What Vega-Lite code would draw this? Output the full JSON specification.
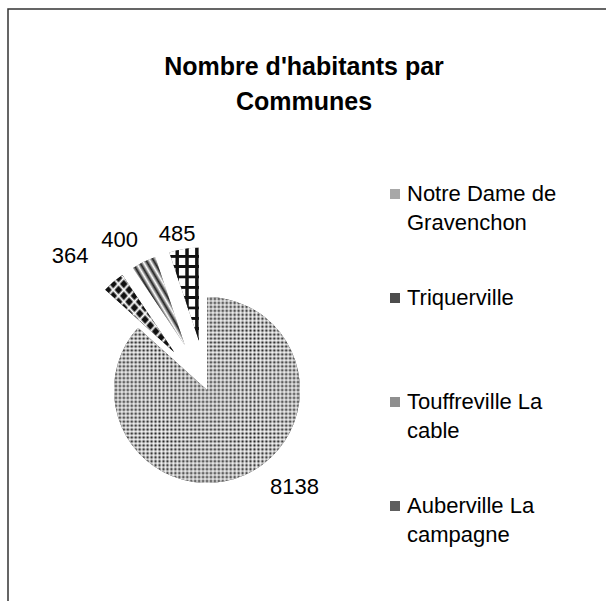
{
  "$schema": "https://vega.github.io/schema/vega-lite/v6.json",
  "width": 598,
  "height": 592,
  "autosize": {"type": "none"},
  "padding": {"left": 8, "top": 9, "right": 0, "bottom": 0},
  "background": "white",
  "title": {
    "text": ["Nombre d'habitants par", "Communes"],
    "anchor": "middle",
    "offset": -106,
    "dx": -3,
    "font": "Liberation Sans",
    "fontSize": 25,
    "fontWeight": "bold",
    "lineHeight": 35,
    "color": "black"
  },
  "config": {
    "view": {"stroke": "#333333", "strokeWidth": 1.5, "strokeDash": [598, 1190, 592]},
    "style": {"guide-label": {"lineHeight": 29}}
  },
  "data": {
    "values": [
      {"commune": "Notre Dame de Gravenchon", "habitants": 8138, "rang": 1},
      {"commune": "Triquerville", "habitants": 364, "rang": 2},
      {"commune": "Touffreville La cable", "habitants": 400, "rang": 3},
      {"commune": "Auberville La campagne", "habitants": 485, "rang": 4}
    ]
  },
  "transform": [
    {"stack": "habitants", "groupby": [], "sort": [{"field": "rang", "order": "ascending"}], "as": ["t0", "t1"]},
    {"joinaggregate": [{"op": "sum", "field": "habitants", "as": "total"}]},
    {"calculate": "(datum.t0 + datum.t1) / 2", "as": "tm"},
    {"calculate": "datum.rang > 1 ? 50 : 0", "as": "ecart"},
    {"calculate": "datum.ecart * sin(2 * PI * datum.tm / datum.total)", "as": "dx"},
    {"calculate": "datum.ecart * cos(2 * PI * datum.tm / datum.total)", "as": "dy"}
  ],
  "encoding": {
    "x": {"field": "dx", "type": "quantitative", "scale": {"domain": [-199, 399], "nice": false, "zero": false}, "axis": null},
    "y": {"field": "dy", "type": "quantitative", "scale": {"domain": [-211, 381], "nice": false, "zero": false}, "axis": null}
  },
  "layer": [
    {
      "mark": {"type": "arc", "radius": 93, "strokeWidth": 0},
      "encoding": {
        "theta": {"field": "t1", "type": "quantitative", "stack": null, "scale": {"zero": true, "nice": false}},
        "theta2": {"field": "t0"},
        "color": {
          "field": "commune",
          "type": "nominal",
          "scale": {
            "domain": ["Notre Dame de Gravenchon", "Triquerville", "Touffreville La cable", "Auberville La campagne"],
            "range": ["#a8a8a8", "#4d4d4d", "#8f8f8f", "#5e5e5e"]
          },
          "legend": {
            "orient": "none",
            "legendX": 376,
            "legendY": 174,
            "title": null,
            "padding": 0,
            "symbolType": "square",
            "symbolSize": 100,
            "symbolStrokeWidth": 0,
            "labelFont": "Liberation Sans",
            "labelFontSize": 22,
            "labelColor": "black",
            "labelOffset": 1,
            "labelLimit": 400,
            "labelBaseline": "middle",
            "gridAlign": "all",
            "rowPadding": 53,
            "labelExpr": "datum.label == 'Notre Dame de Gravenchon' ? ['Notre Dame de', 'Gravenchon'] : datum.label == 'Triquerville' ? ['Triquerville', ''] : datum.label == 'Touffreville La cable' ? ['Touffreville La', 'cable'] : ['Auberville La', 'campagne']"
          }
        }
      }
    },
    {
      "transform": [{"filter": "datum.rang == 1"}],
      "mark": {"type": "arc", "radius": 93, "strokeWidth": 0, "fill": "#222222"},
      "encoding": {
        "theta": {"field": "t1", "type": "quantitative", "stack": null},
        "theta2": {"field": "t0"}
      }
    },
    {
      "transform": [{"filter": "datum.rang == 1"}],
      "mark": {
        "type": "arc", "radius": 93, "strokeWidth": 0,
        "fill": {
          "gradient": "linear", "x1": 0, "y1": 0, "x2": 1, "y2": 0,
          "stops": [
            {"offset": 0, "color": "rgba(255,255,255,0.8)"}, {"offset": 0.0106, "color": "rgba(255,255,255,0)"}, {"offset": 0.0213, "color": "rgba(255,255,255,0.8)"}, {"offset": 0.0319, "color": "rgba(255,255,255,0)"},
            {"offset": 0.0426, "color": "rgba(255,255,255,0.8)"}, {"offset": 0.0532, "color": "rgba(255,255,255,0)"}, {"offset": 0.0638, "color": "rgba(255,255,255,0.8)"}, {"offset": 0.0745, "color": "rgba(255,255,255,0)"},
            {"offset": 0.0851, "color": "rgba(255,255,255,0.8)"}, {"offset": 0.0957, "color": "rgba(255,255,255,0)"}, {"offset": 0.1064, "color": "rgba(255,255,255,0.8)"}, {"offset": 0.117, "color": "rgba(255,255,255,0)"},
            {"offset": 0.1277, "color": "rgba(255,255,255,0.8)"}, {"offset": 0.1383, "color": "rgba(255,255,255,0)"}, {"offset": 0.1489, "color": "rgba(255,255,255,0.8)"}, {"offset": 0.1596, "color": "rgba(255,255,255,0)"},
            {"offset": 0.1702, "color": "rgba(255,255,255,0.8)"}, {"offset": 0.1809, "color": "rgba(255,255,255,0)"}, {"offset": 0.1915, "color": "rgba(255,255,255,0.8)"}, {"offset": 0.2021, "color": "rgba(255,255,255,0)"},
            {"offset": 0.2128, "color": "rgba(255,255,255,0.8)"}, {"offset": 0.2234, "color": "rgba(255,255,255,0)"}, {"offset": 0.234, "color": "rgba(255,255,255,0.8)"}, {"offset": 0.2447, "color": "rgba(255,255,255,0)"},
            {"offset": 0.2553, "color": "rgba(255,255,255,0.8)"}, {"offset": 0.266, "color": "rgba(255,255,255,0)"}, {"offset": 0.2766, "color": "rgba(255,255,255,0.8)"}, {"offset": 0.2872, "color": "rgba(255,255,255,0)"},
            {"offset": 0.2979, "color": "rgba(255,255,255,0.8)"}, {"offset": 0.3085, "color": "rgba(255,255,255,0)"}, {"offset": 0.3191, "color": "rgba(255,255,255,0.8)"}, {"offset": 0.3298, "color": "rgba(255,255,255,0)"},
            {"offset": 0.3404, "color": "rgba(255,255,255,0.8)"}, {"offset": 0.3511, "color": "rgba(255,255,255,0)"}, {"offset": 0.3617, "color": "rgba(255,255,255,0.8)"}, {"offset": 0.3723, "color": "rgba(255,255,255,0)"},
            {"offset": 0.383, "color": "rgba(255,255,255,0.8)"}, {"offset": 0.3936, "color": "rgba(255,255,255,0)"}, {"offset": 0.4043, "color": "rgba(255,255,255,0.8)"}, {"offset": 0.4149, "color": "rgba(255,255,255,0)"},
            {"offset": 0.4255, "color": "rgba(255,255,255,0.8)"}, {"offset": 0.4362, "color": "rgba(255,255,255,0)"}, {"offset": 0.4468, "color": "rgba(255,255,255,0.8)"}, {"offset": 0.4574, "color": "rgba(255,255,255,0)"},
            {"offset": 0.4681, "color": "rgba(255,255,255,0.8)"}, {"offset": 0.4787, "color": "rgba(255,255,255,0)"}, {"offset": 0.4894, "color": "rgba(255,255,255,0.8)"}, {"offset": 0.5, "color": "rgba(255,255,255,0)"},
            {"offset": 0.5106, "color": "rgba(255,255,255,0.8)"}, {"offset": 0.5213, "color": "rgba(255,255,255,0)"}, {"offset": 0.5319, "color": "rgba(255,255,255,0.8)"}, {"offset": 0.5426, "color": "rgba(255,255,255,0)"},
            {"offset": 0.5532, "color": "rgba(255,255,255,0.8)"}, {"offset": 0.5638, "color": "rgba(255,255,255,0)"}, {"offset": 0.5745, "color": "rgba(255,255,255,0.8)"}, {"offset": 0.5851, "color": "rgba(255,255,255,0)"},
            {"offset": 0.5957, "color": "rgba(255,255,255,0.8)"}, {"offset": 0.6064, "color": "rgba(255,255,255,0)"}, {"offset": 0.617, "color": "rgba(255,255,255,0.8)"}, {"offset": 0.6277, "color": "rgba(255,255,255,0)"},
            {"offset": 0.6383, "color": "rgba(255,255,255,0.8)"}, {"offset": 0.6489, "color": "rgba(255,255,255,0)"}, {"offset": 0.6596, "color": "rgba(255,255,255,0.8)"}, {"offset": 0.6702, "color": "rgba(255,255,255,0)"},
            {"offset": 0.6809, "color": "rgba(255,255,255,0.8)"}, {"offset": 0.6915, "color": "rgba(255,255,255,0)"}, {"offset": 0.7021, "color": "rgba(255,255,255,0.8)"}, {"offset": 0.7128, "color": "rgba(255,255,255,0)"},
            {"offset": 0.7234, "color": "rgba(255,255,255,0.8)"}, {"offset": 0.734, "color": "rgba(255,255,255,0)"}, {"offset": 0.7447, "color": "rgba(255,255,255,0.8)"}, {"offset": 0.7553, "color": "rgba(255,255,255,0)"},
            {"offset": 0.766, "color": "rgba(255,255,255,0.8)"}, {"offset": 0.7766, "color": "rgba(255,255,255,0)"}, {"offset": 0.7872, "color": "rgba(255,255,255,0.8)"}, {"offset": 0.7979, "color": "rgba(255,255,255,0)"},
            {"offset": 0.8085, "color": "rgba(255,255,255,0.8)"}, {"offset": 0.8191, "color": "rgba(255,255,255,0)"}, {"offset": 0.8298, "color": "rgba(255,255,255,0.8)"}, {"offset": 0.8404, "color": "rgba(255,255,255,0)"},
            {"offset": 0.8511, "color": "rgba(255,255,255,0.8)"}, {"offset": 0.8617, "color": "rgba(255,255,255,0)"}, {"offset": 0.8723, "color": "rgba(255,255,255,0.8)"}, {"offset": 0.883, "color": "rgba(255,255,255,0)"},
            {"offset": 0.8936, "color": "rgba(255,255,255,0.8)"}, {"offset": 0.9043, "color": "rgba(255,255,255,0)"}, {"offset": 0.9149, "color": "rgba(255,255,255,0.8)"}, {"offset": 0.9255, "color": "rgba(255,255,255,0)"},
            {"offset": 0.9362, "color": "rgba(255,255,255,0.8)"}, {"offset": 0.9468, "color": "rgba(255,255,255,0)"}, {"offset": 0.9574, "color": "rgba(255,255,255,0.8)"}, {"offset": 0.9681, "color": "rgba(255,255,255,0)"},
            {"offset": 0.9787, "color": "rgba(255,255,255,0.8)"}, {"offset": 0.9894, "color": "rgba(255,255,255,0)"}, {"offset": 1, "color": "rgba(255,255,255,0.8)"}
          ]
        }
      },
      "encoding": {
        "theta": {"field": "t1", "type": "quantitative", "stack": null},
        "theta2": {"field": "t0"}
      }
    },
    {
      "transform": [{"filter": "datum.rang == 1"}],
      "mark": {
        "type": "arc", "radius": 93, "strokeWidth": 0,
        "fill": {
          "gradient": "linear", "x1": 0, "y1": 0, "x2": 0, "y2": 1,
          "stops": [
            {"offset": 0, "color": "rgba(255,255,255,0.8)"}, {"offset": 0.0106, "color": "rgba(255,255,255,0)"}, {"offset": 0.0213, "color": "rgba(255,255,255,0.8)"}, {"offset": 0.0319, "color": "rgba(255,255,255,0)"},
            {"offset": 0.0426, "color": "rgba(255,255,255,0.8)"}, {"offset": 0.0532, "color": "rgba(255,255,255,0)"}, {"offset": 0.0638, "color": "rgba(255,255,255,0.8)"}, {"offset": 0.0745, "color": "rgba(255,255,255,0)"},
            {"offset": 0.0851, "color": "rgba(255,255,255,0.8)"}, {"offset": 0.0957, "color": "rgba(255,255,255,0)"}, {"offset": 0.1064, "color": "rgba(255,255,255,0.8)"}, {"offset": 0.117, "color": "rgba(255,255,255,0)"},
            {"offset": 0.1277, "color": "rgba(255,255,255,0.8)"}, {"offset": 0.1383, "color": "rgba(255,255,255,0)"}, {"offset": 0.1489, "color": "rgba(255,255,255,0.8)"}, {"offset": 0.1596, "color": "rgba(255,255,255,0)"},
            {"offset": 0.1702, "color": "rgba(255,255,255,0.8)"}, {"offset": 0.1809, "color": "rgba(255,255,255,0)"}, {"offset": 0.1915, "color": "rgba(255,255,255,0.8)"}, {"offset": 0.2021, "color": "rgba(255,255,255,0)"},
            {"offset": 0.2128, "color": "rgba(255,255,255,0.8)"}, {"offset": 0.2234, "color": "rgba(255,255,255,0)"}, {"offset": 0.234, "color": "rgba(255,255,255,0.8)"}, {"offset": 0.2447, "color": "rgba(255,255,255,0)"},
            {"offset": 0.2553, "color": "rgba(255,255,255,0.8)"}, {"offset": 0.266, "color": "rgba(255,255,255,0)"}, {"offset": 0.2766, "color": "rgba(255,255,255,0.8)"}, {"offset": 0.2872, "color": "rgba(255,255,255,0)"},
            {"offset": 0.2979, "color": "rgba(255,255,255,0.8)"}, {"offset": 0.3085, "color": "rgba(255,255,255,0)"}, {"offset": 0.3191, "color": "rgba(255,255,255,0.8)"}, {"offset": 0.3298, "color": "rgba(255,255,255,0)"},
            {"offset": 0.3404, "color": "rgba(255,255,255,0.8)"}, {"offset": 0.3511, "color": "rgba(255,255,255,0)"}, {"offset": 0.3617, "color": "rgba(255,255,255,0.8)"}, {"offset": 0.3723, "color": "rgba(255,255,255,0)"},
            {"offset": 0.383, "color": "rgba(255,255,255,0.8)"}, {"offset": 0.3936, "color": "rgba(255,255,255,0)"}, {"offset": 0.4043, "color": "rgba(255,255,255,0.8)"}, {"offset": 0.4149, "color": "rgba(255,255,255,0)"},
            {"offset": 0.4255, "color": "rgba(255,255,255,0.8)"}, {"offset": 0.4362, "color": "rgba(255,255,255,0)"}, {"offset": 0.4468, "color": "rgba(255,255,255,0.8)"}, {"offset": 0.4574, "color": "rgba(255,255,255,0)"},
            {"offset": 0.4681, "color": "rgba(255,255,255,0.8)"}, {"offset": 0.4787, "color": "rgba(255,255,255,0)"}, {"offset": 0.4894, "color": "rgba(255,255,255,0.8)"}, {"offset": 0.5, "color": "rgba(255,255,255,0)"},
            {"offset": 0.5106, "color": "rgba(255,255,255,0.8)"}, {"offset": 0.5213, "color": "rgba(255,255,255,0)"}, {"offset": 0.5319, "color": "rgba(255,255,255,0.8)"}, {"offset": 0.5426, "color": "rgba(255,255,255,0)"},
            {"offset": 0.5532, "color": "rgba(255,255,255,0.8)"}, {"offset": 0.5638, "color": "rgba(255,255,255,0)"}, {"offset": 0.5745, "color": "rgba(255,255,255,0.8)"}, {"offset": 0.5851, "color": "rgba(255,255,255,0)"},
            {"offset": 0.5957, "color": "rgba(255,255,255,0.8)"}, {"offset": 0.6064, "color": "rgba(255,255,255,0)"}, {"offset": 0.617, "color": "rgba(255,255,255,0.8)"}, {"offset": 0.6277, "color": "rgba(255,255,255,0)"},
            {"offset": 0.6383, "color": "rgba(255,255,255,0.8)"}, {"offset": 0.6489, "color": "rgba(255,255,255,0)"}, {"offset": 0.6596, "color": "rgba(255,255,255,0.8)"}, {"offset": 0.6702, "color": "rgba(255,255,255,0)"},
            {"offset": 0.6809, "color": "rgba(255,255,255,0.8)"}, {"offset": 0.6915, "color": "rgba(255,255,255,0)"}, {"offset": 0.7021, "color": "rgba(255,255,255,0.8)"}, {"offset": 0.7128, "color": "rgba(255,255,255,0)"},
            {"offset": 0.7234, "color": "rgba(255,255,255,0.8)"}, {"offset": 0.734, "color": "rgba(255,255,255,0)"}, {"offset": 0.7447, "color": "rgba(255,255,255,0.8)"}, {"offset": 0.7553, "color": "rgba(255,255,255,0)"},
            {"offset": 0.766, "color": "rgba(255,255,255,0.8)"}, {"offset": 0.7766, "color": "rgba(255,255,255,0)"}, {"offset": 0.7872, "color": "rgba(255,255,255,0.8)"}, {"offset": 0.7979, "color": "rgba(255,255,255,0)"},
            {"offset": 0.8085, "color": "rgba(255,255,255,0.8)"}, {"offset": 0.8191, "color": "rgba(255,255,255,0)"}, {"offset": 0.8298, "color": "rgba(255,255,255,0.8)"}, {"offset": 0.8404, "color": "rgba(255,255,255,0)"},
            {"offset": 0.8511, "color": "rgba(255,255,255,0.8)"}, {"offset": 0.8617, "color": "rgba(255,255,255,0)"}, {"offset": 0.8723, "color": "rgba(255,255,255,0.8)"}, {"offset": 0.883, "color": "rgba(255,255,255,0)"},
            {"offset": 0.8936, "color": "rgba(255,255,255,0.8)"}, {"offset": 0.9043, "color": "rgba(255,255,255,0)"}, {"offset": 0.9149, "color": "rgba(255,255,255,0.8)"}, {"offset": 0.9255, "color": "rgba(255,255,255,0)"},
            {"offset": 0.9362, "color": "rgba(255,255,255,0.8)"}, {"offset": 0.9468, "color": "rgba(255,255,255,0)"}, {"offset": 0.9574, "color": "rgba(255,255,255,0.8)"}, {"offset": 0.9681, "color": "rgba(255,255,255,0)"},
            {"offset": 0.9787, "color": "rgba(255,255,255,0.8)"}, {"offset": 0.9894, "color": "rgba(255,255,255,0)"}, {"offset": 1, "color": "rgba(255,255,255,0.8)"}
          ]
        }
      },
      "encoding": {
        "theta": {"field": "t1", "type": "quantitative", "stack": null},
        "theta2": {"field": "t0"}
      }
    },
    {
      "transform": [{"filter": "datum.rang == 2"}],
      "mark": {"type": "arc", "radius": 93, "strokeWidth": 0, "fill": "#111111"},
      "encoding": {
        "theta": {"field": "t1", "type": "quantitative", "stack": null},
        "theta2": {"field": "t0"}
      }
    },
    {
      "transform": [{"filter": "datum.rang == 2"}],
      "mark": {
        "type": "arc", "radius": 93, "strokeWidth": 0,
        "fill": {
          "gradient": "linear", "x1": 0, "y1": 0, "x2": 1, "y2": 1,
          "stops": [
            {"offset": 0, "color": "rgba(255,255,255,1)"}, {"offset": 0.0192, "color": "rgba(255,255,255,0)"}, {"offset": 0.0577, "color": "rgba(255,255,255,0)"},
            {"offset": 0.0769, "color": "rgba(255,255,255,1)"}, {"offset": 0.0962, "color": "rgba(255,255,255,0)"}, {"offset": 0.1346, "color": "rgba(255,255,255,0)"},
            {"offset": 0.1538, "color": "rgba(255,255,255,1)"}, {"offset": 0.1731, "color": "rgba(255,255,255,0)"}, {"offset": 0.2115, "color": "rgba(255,255,255,0)"},
            {"offset": 0.2308, "color": "rgba(255,255,255,1)"}, {"offset": 0.25, "color": "rgba(255,255,255,0)"}, {"offset": 0.2885, "color": "rgba(255,255,255,0)"},
            {"offset": 0.3077, "color": "rgba(255,255,255,1)"}, {"offset": 0.3269, "color": "rgba(255,255,255,0)"}, {"offset": 0.3654, "color": "rgba(255,255,255,0)"},
            {"offset": 0.3846, "color": "rgba(255,255,255,1)"}, {"offset": 0.4038, "color": "rgba(255,255,255,0)"}, {"offset": 0.4423, "color": "rgba(255,255,255,0)"},
            {"offset": 0.4615, "color": "rgba(255,255,255,1)"}, {"offset": 0.4808, "color": "rgba(255,255,255,0)"}, {"offset": 0.5192, "color": "rgba(255,255,255,0)"},
            {"offset": 0.5385, "color": "rgba(255,255,255,1)"}, {"offset": 0.5577, "color": "rgba(255,255,255,0)"}, {"offset": 0.5962, "color": "rgba(255,255,255,0)"},
            {"offset": 0.6154, "color": "rgba(255,255,255,1)"}, {"offset": 0.6346, "color": "rgba(255,255,255,0)"}, {"offset": 0.6731, "color": "rgba(255,255,255,0)"},
            {"offset": 0.6923, "color": "rgba(255,255,255,1)"}, {"offset": 0.7115, "color": "rgba(255,255,255,0)"}, {"offset": 0.75, "color": "rgba(255,255,255,0)"},
            {"offset": 0.7692, "color": "rgba(255,255,255,1)"}, {"offset": 0.7885, "color": "rgba(255,255,255,0)"}, {"offset": 0.8269, "color": "rgba(255,255,255,0)"},
            {"offset": 0.8462, "color": "rgba(255,255,255,1)"}, {"offset": 0.8654, "color": "rgba(255,255,255,0)"}, {"offset": 0.9038, "color": "rgba(255,255,255,0)"},
            {"offset": 0.9231, "color": "rgba(255,255,255,1)"}, {"offset": 0.9423, "color": "rgba(255,255,255,0)"}, {"offset": 0.9808, "color": "rgba(255,255,255,0)"},
            {"offset": 1, "color": "rgba(255,255,255,1)"}
          ]
        }
      },
      "encoding": {
        "theta": {"field": "t1", "type": "quantitative", "stack": null},
        "theta2": {"field": "t0"}
      }
    },
    {
      "transform": [{"filter": "datum.rang == 2"}],
      "mark": {
        "type": "arc", "radius": 93, "strokeWidth": 0,
        "fill": {
          "gradient": "linear", "x1": 1, "y1": 0, "x2": 0, "y2": 1,
          "stops": [
            {"offset": 0, "color": "rgba(255,255,255,1)"}, {"offset": 0.0192, "color": "rgba(255,255,255,0)"}, {"offset": 0.0577, "color": "rgba(255,255,255,0)"},
            {"offset": 0.0769, "color": "rgba(255,255,255,1)"}, {"offset": 0.0962, "color": "rgba(255,255,255,0)"}, {"offset": 0.1346, "color": "rgba(255,255,255,0)"},
            {"offset": 0.1538, "color": "rgba(255,255,255,1)"}, {"offset": 0.1731, "color": "rgba(255,255,255,0)"}, {"offset": 0.2115, "color": "rgba(255,255,255,0)"},
            {"offset": 0.2308, "color": "rgba(255,255,255,1)"}, {"offset": 0.25, "color": "rgba(255,255,255,0)"}, {"offset": 0.2885, "color": "rgba(255,255,255,0)"},
            {"offset": 0.3077, "color": "rgba(255,255,255,1)"}, {"offset": 0.3269, "color": "rgba(255,255,255,0)"}, {"offset": 0.3654, "color": "rgba(255,255,255,0)"},
            {"offset": 0.3846, "color": "rgba(255,255,255,1)"}, {"offset": 0.4038, "color": "rgba(255,255,255,0)"}, {"offset": 0.4423, "color": "rgba(255,255,255,0)"},
            {"offset": 0.4615, "color": "rgba(255,255,255,1)"}, {"offset": 0.4808, "color": "rgba(255,255,255,0)"}, {"offset": 0.5192, "color": "rgba(255,255,255,0)"},
            {"offset": 0.5385, "color": "rgba(255,255,255,1)"}, {"offset": 0.5577, "color": "rgba(255,255,255,0)"}, {"offset": 0.5962, "color": "rgba(255,255,255,0)"},
            {"offset": 0.6154, "color": "rgba(255,255,255,1)"}, {"offset": 0.6346, "color": "rgba(255,255,255,0)"}, {"offset": 0.6731, "color": "rgba(255,255,255,0)"},
            {"offset": 0.6923, "color": "rgba(255,255,255,1)"}, {"offset": 0.7115, "color": "rgba(255,255,255,0)"}, {"offset": 0.75, "color": "rgba(255,255,255,0)"},
            {"offset": 0.7692, "color": "rgba(255,255,255,1)"}, {"offset": 0.7885, "color": "rgba(255,255,255,0)"}, {"offset": 0.8269, "color": "rgba(255,255,255,0)"},
            {"offset": 0.8462, "color": "rgba(255,255,255,1)"}, {"offset": 0.8654, "color": "rgba(255,255,255,0)"}, {"offset": 0.9038, "color": "rgba(255,255,255,0)"},
            {"offset": 0.9231, "color": "rgba(255,255,255,1)"}, {"offset": 0.9423, "color": "rgba(255,255,255,0)"}, {"offset": 0.9808, "color": "rgba(255,255,255,0)"},
            {"offset": 1, "color": "rgba(255,255,255,1)"}
          ]
        }
      },
      "encoding": {
        "theta": {"field": "t1", "type": "quantitative", "stack": null},
        "theta2": {"field": "t0"}
      }
    },
    {
      "transform": [{"filter": "datum.rang == 3"}],
      "mark": {
        "type": "arc", "radius": 93, "strokeWidth": 0,
        "fill": {
          "gradient": "linear", "x1": 0, "y1": 1, "x2": 1, "y2": 0,
          "stops": [
            {"offset": 0, "color": "#ffffff"}, {"offset": 0.0357, "color": "#222222"}, {"offset": 0.0714, "color": "#ffffff"}, {"offset": 0.1071, "color": "#222222"},
            {"offset": 0.1429, "color": "#ffffff"}, {"offset": 0.1786, "color": "#222222"}, {"offset": 0.2143, "color": "#ffffff"}, {"offset": 0.25, "color": "#222222"},
            {"offset": 0.2857, "color": "#ffffff"}, {"offset": 0.3214, "color": "#222222"}, {"offset": 0.3571, "color": "#ffffff"}, {"offset": 0.3929, "color": "#222222"},
            {"offset": 0.4286, "color": "#ffffff"}, {"offset": 0.4643, "color": "#222222"}, {"offset": 0.5, "color": "#ffffff"}, {"offset": 0.5357, "color": "#222222"},
            {"offset": 0.5714, "color": "#ffffff"}, {"offset": 0.6071, "color": "#222222"}, {"offset": 0.6429, "color": "#ffffff"}, {"offset": 0.6786, "color": "#222222"},
            {"offset": 0.7143, "color": "#ffffff"}, {"offset": 0.75, "color": "#222222"}, {"offset": 0.7857, "color": "#ffffff"}, {"offset": 0.8214, "color": "#222222"},
            {"offset": 0.8571, "color": "#ffffff"}, {"offset": 0.8929, "color": "#222222"}, {"offset": 0.9286, "color": "#ffffff"}, {"offset": 0.9643, "color": "#222222"},
            {"offset": 1, "color": "#ffffff"}
          ]
        }
      },
      "encoding": {
        "theta": {"field": "t1", "type": "quantitative", "stack": null},
        "theta2": {"field": "t0"}
      }
    },
    {
      "transform": [{"filter": "datum.rang == 4"}],
      "mark": {
        "type": "arc", "radius": 93, "strokeWidth": 0,
        "fill": {
          "gradient": "linear", "x1": 0, "y1": 0, "x2": 1, "y2": 0,
          "stops": [
            {"offset": 0, "color": "#ffffff"}, {"offset": 0.2, "color": "#ffffff"}, {"offset": 0.22, "color": "#111111"}, {"offset": 0.31, "color": "#111111"},
            {"offset": 0.333, "color": "#ffffff"}, {"offset": 0.533, "color": "#ffffff"}, {"offset": 0.553, "color": "#111111"}, {"offset": 0.643, "color": "#111111"},
            {"offset": 0.667, "color": "#ffffff"}, {"offset": 0.867, "color": "#ffffff"}, {"offset": 0.887, "color": "#111111"}, {"offset": 0.977, "color": "#111111"},
            {"offset": 1, "color": "#ffffff"}
          ]
        }
      },
      "encoding": {
        "theta": {"field": "t1", "type": "quantitative", "stack": null},
        "theta2": {"field": "t0"}
      }
    },
    {
      "transform": [{"filter": "datum.rang == 4"}],
      "mark": {
        "type": "arc", "radius": 93, "strokeWidth": 0,
        "fill": {
          "gradient": "linear", "x1": 0, "y1": 0, "x2": 0, "y2": 1,
          "stops": [
            {"offset": 0, "color": "rgba(17,17,17,0)"}, {"offset": 0.075, "color": "rgba(17,17,17,0)"}, {"offset": 0.08, "color": "rgba(17,17,17,1)"}, {"offset": 0.105, "color": "rgba(17,17,17,1)"},
            {"offset": 0.1111, "color": "rgba(17,17,17,0)"}, {"offset": 0.1861, "color": "rgba(17,17,17,0)"}, {"offset": 0.1911, "color": "rgba(17,17,17,1)"}, {"offset": 0.2161, "color": "rgba(17,17,17,1)"},
            {"offset": 0.2222, "color": "rgba(17,17,17,0)"}, {"offset": 0.2972, "color": "rgba(17,17,17,0)"}, {"offset": 0.3022, "color": "rgba(17,17,17,1)"}, {"offset": 0.3272, "color": "rgba(17,17,17,1)"},
            {"offset": 0.3333, "color": "rgba(17,17,17,0)"}, {"offset": 0.4083, "color": "rgba(17,17,17,0)"}, {"offset": 0.4133, "color": "rgba(17,17,17,1)"}, {"offset": 0.4383, "color": "rgba(17,17,17,1)"},
            {"offset": 0.4444, "color": "rgba(17,17,17,0)"}, {"offset": 0.5194, "color": "rgba(17,17,17,0)"}, {"offset": 0.5244, "color": "rgba(17,17,17,1)"}, {"offset": 0.5494, "color": "rgba(17,17,17,1)"},
            {"offset": 0.5556, "color": "rgba(17,17,17,0)"}, {"offset": 0.6306, "color": "rgba(17,17,17,0)"}, {"offset": 0.6356, "color": "rgba(17,17,17,1)"}, {"offset": 0.6606, "color": "rgba(17,17,17,1)"},
            {"offset": 0.6667, "color": "rgba(17,17,17,0)"}, {"offset": 0.7417, "color": "rgba(17,17,17,0)"}, {"offset": 0.7467, "color": "rgba(17,17,17,1)"}, {"offset": 0.7717, "color": "rgba(17,17,17,1)"},
            {"offset": 0.7778, "color": "rgba(17,17,17,0)"}, {"offset": 0.8528, "color": "rgba(17,17,17,0)"}, {"offset": 0.8578, "color": "rgba(17,17,17,1)"}, {"offset": 0.8828, "color": "rgba(17,17,17,1)"},
            {"offset": 0.8889, "color": "rgba(17,17,17,0)"}, {"offset": 0.9639, "color": "rgba(17,17,17,0)"}, {"offset": 0.9689, "color": "rgba(17,17,17,1)"}, {"offset": 0.9939, "color": "rgba(17,17,17,1)"},
            {"offset": 1, "color": "rgba(17,17,17,0)"}
          ]
        }
      },
      "encoding": {
        "theta": {"field": "t1", "type": "quantitative", "stack": null},
        "theta2": {"field": "t0"}
      }
    },
    {
      "transform": [{"filter": "datum.rang == 1"}],
      "mark": {"type": "text", "radius": 131, "thetaOffset": -0.314, "font": "Liberation Sans", "fontSize": 22, "color": "black"},
      "encoding": {
        "theta": {"field": "tm", "type": "quantitative", "stack": null, "scale": {"zero": true, "nice": false}},
        "text": {"field": "habitants", "type": "quantitative", "format": "d"}
      }
    },
    {
      "transform": [{"filter": "datum.rang == 2"}],
      "mark": {"type": "text", "radius": 142, "thetaOffset": -0.11, "font": "Liberation Sans", "fontSize": 22, "color": "black"},
      "encoding": {
        "theta": {"field": "tm", "type": "quantitative", "stack": null},
        "text": {"field": "habitants", "type": "quantitative", "format": "d"}
      }
    },
    {
      "transform": [{"filter": "datum.rang == 3"}],
      "mark": {"type": "text", "radius": 124, "thetaOffset": -0.096, "font": "Liberation Sans", "fontSize": 22, "color": "black"},
      "encoding": {
        "theta": {"field": "tm", "type": "quantitative", "stack": null},
        "text": {"field": "habitants", "type": "quantitative", "format": "d"}
      }
    },
    {
      "transform": [{"filter": "datum.rang == 4"}],
      "mark": {"type": "text", "radius": 109, "thetaOffset": -0.04, "font": "Liberation Sans", "fontSize": 22, "color": "black"},
      "encoding": {
        "theta": {"field": "tm", "type": "quantitative", "stack": null},
        "text": {"field": "habitants", "type": "quantitative", "format": "d"}
      }
    }
  ]
}
